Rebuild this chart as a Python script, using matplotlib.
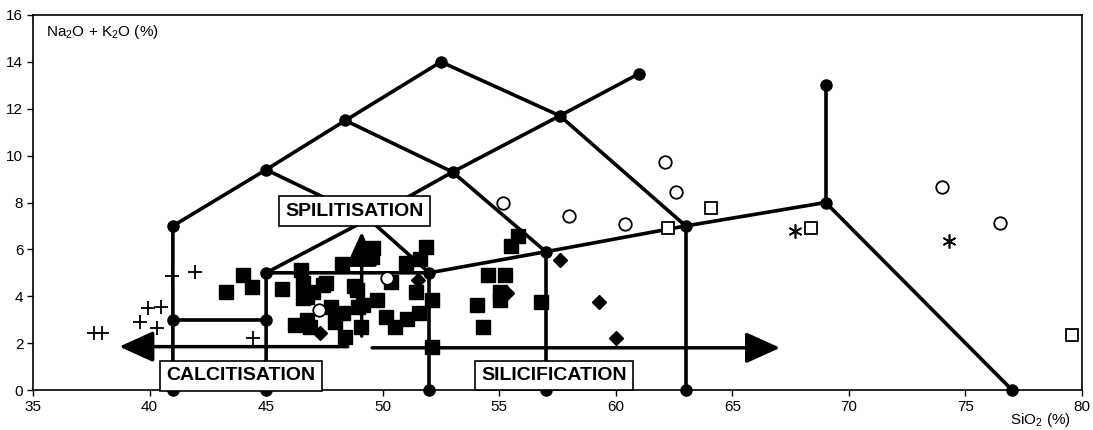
import matplotlib
matplotlib.use('Agg')
import matplotlib.pyplot as plt

plt.rcParams['font.family'] = ['Liberation Sans', 'DejaVu Sans']
plt.rcParams['mathtext.fontset'] = 'custom'
plt.rcParams['mathtext.rm'] = 'Liberation Sans'
plt.rcParams['mathtext.default'] = 'regular'

# TAS diagram field boundaries (SiO2, Na2O+K2O)
tas_lines = [
    [(41, 0), (41, 7), (45, 9.4), (48.4, 11.5), (52.5, 14)],
    [(41, 3), (45, 3)],
    [(45, 0), (45, 5), (52, 5), (57, 5.9), (63, 7), (69, 8), (77, 0)],
    [(69, 8), (69, 13)],
    [(52, 0), (52, 5)],
    [(57, 0), (57, 5.9)],
    [(63, 0), (63, 7)],
    [(45, 9.4), (49.4, 7.3), (53, 9.3), (57.6, 11.7), (61, 13.5)],
    [(45, 5), (49.4, 7.3), (52, 5)],
    [(48.4, 11.5), (53, 9.3), (57, 5.9)],
    [(52.5, 14), (57.6, 11.7), (63, 7)],
]
node_x = [41, 45, 52, 57, 63, 77, 41, 45, 41, 45, 52, 57, 63, 69, 69, 45, 48.4, 52.5, 61, 53, 57.6]
node_y = [0, 0, 0, 0, 0, 0, 3, 3, 7, 5, 5, 5.9, 7, 8, 13, 9.4, 11.5, 14, 13.5, 9.3, 11.7]

# echantillons
fsq_x = [43.3, 44.0, 44.4, 45.7, 46.5, 48.25, 47.45, 47.0, 46.6, 48.75, 47.8, 48.3, 48.95,
         46.25, 46.75, 46.9, 48.4, 47.95, 49.05, 49.6, 49.55, 51.85, 51.0, 51.6, 50.35, 51.45,
         52.1, 49.75, 49.15, 48.9, 50.15, 50.55, 51.05, 51.55, 46.75, 46.6, 47.55, 52.1,
         54.5, 54.05, 54.3, 55.8, 55.5, 55.25, 55.05, 55.05, 56.8]
fsq_y = [4.18, 4.9, 4.4, 4.3, 5.13, 5.37, 4.48, 4.19, 3.91, 4.44, 3.55, 3.27, 3.55,
         2.77, 2.98, 2.7, 2.27, 2.91, 2.7, 6.04, 5.69, 6.11, 5.4, 5.6, 4.62, 4.19,
         3.84, 3.84, 3.62, 4.26, 3.13, 2.7, 3.02, 3.27, 3.98, 4.55, 4.55, 1.82,
         4.9, 3.62, 2.7, 6.57, 6.14, 4.9, 4.19, 3.84, 3.77]
dia_x = [47.3, 51.5, 55.35, 57.6, 59.3, 60.0]
dia_y = [2.42, 4.7, 4.12, 5.54, 3.77, 2.2]
circ_x = [47.26, 50.17, 55.15, 58.0, 60.4, 62.6, 62.1, 74.0, 76.5]
circ_y = [3.4, 4.78, 7.96, 7.42, 7.08, 8.46, 9.74, 8.67, 7.14]
osq_x = [62.26, 64.1, 68.38, 79.56]
osq_y = [6.92, 7.78, 6.9, 2.35]
ast_x = [67.7, 74.3]
ast_y = [6.78, 6.36]
plus_x = [40.95, 41.95, 39.95, 40.5, 39.6, 40.3, 37.6, 37.95, 44.45]
plus_y = [4.86, 5.05, 3.48, 3.55, 2.91, 2.63, 2.42, 2.42, 2.2]

fig = plt.figure(figsize=(10.93, 4.30), dpi=100)
ax = fig.add_axes([33 / 1093, 40 / 430, 1049 / 1093, 375 / 430])

for line in tas_lines:
    xs = [p[0] for p in line]
    ys = [p[1] for p in line]
    ax.plot(xs, ys, color='black', lw=2.6, solid_capstyle='round', zorder=2)
ax.plot(node_x, node_y, 'o', color='black', ms=8, clip_on=False, zorder=2)

ax.plot(fsq_x, fsq_y, 's', color='black', ms=10, zorder=3)
ax.plot(dia_x, dia_y, 'D', color='black', ms=7, zorder=3)
ax.plot(circ_x, circ_y, 'o', mfc='white', mec='black', mew=1.3, ms=9, zorder=3)
ax.plot(osq_x, osq_y, 's', mfc='white', mec='black', mew=1.3, ms=9, zorder=3)
ax.plot(ast_x, ast_y, marker=(6, 2, 0), ls='none', color='black', mew=1.2, ms=10, zorder=3)
ax.plot(plus_x, plus_y, '+', color='black', mew=1.3, ms=10, zorder=3)

# fleches
arrow = dict(arrowstyle='-|>,head_length=2.1,head_width=0.95', lw=2.5, color='black',
             mutation_scale=10, shrinkA=0, shrinkB=0)
ax.annotate('', xy=(38.7, 1.85), xytext=(48.5, 1.85), arrowprops=arrow, zorder=4)
ax.annotate('', xy=(67.05, 1.8), xytext=(49.55, 1.8), arrowprops=arrow, zorder=4)
ax.annotate('', xy=(49.1, 6.75), xytext=(49.1, 2.3), arrowprops=arrow, zorder=4)

box = dict(boxstyle='square,pad=0.33', fc='white', ec='black', lw=1.2)
ax.text(48.8, 7.63, 'SPILITISATION', ha='center', va='center', fontsize=14,
        fontweight='bold', bbox=box, zorder=5)
ax.text(43.93, 0.6, 'CALCITISATION', ha='center', va='center', fontsize=14,
        fontweight='bold', bbox=box, zorder=5)
ax.text(57.36, 0.62, 'SILICIFICATION', ha='center', va='center', fontsize=14,
        fontweight='bold', bbox=box, zorder=5)

ax.set_xlim(35, 80)
ax.set_ylim(0, 16)
ax.set_xticks(range(35, 81, 5))
ax.set_yticks(range(0, 17, 2))
ax.tick_params(direction='out', length=4, width=1, labelsize=11, pad=3)
for s in ax.spines.values():
    s.set_linewidth(1.2)

ax.text(0.012, 0.955, 'Na$_2$O + K$_2$O (%)', transform=ax.transAxes, fontsize=11,
        ha='left', va='center')
ax.text(0.96, -0.08, 'SiO$_2$ (%)', transform=ax.transAxes, fontsize=11,
        ha='center', va='center')

fig.savefig('out.png', dpi=100)
